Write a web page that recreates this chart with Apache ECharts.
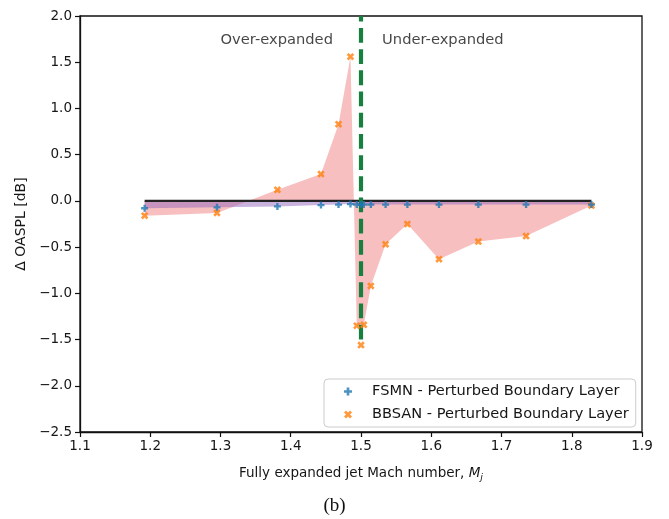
<!DOCTYPE html>
<html>
<head>
<meta charset="utf-8">
<title>ΔOASPL vs fully expanded jet Mach number</title>
<script src="https://cdn.jsdelivr.net/npm/echarts@6/dist/echarts.min.js"></script>
<style>
  html, body { margin: 0; padding: 0; background: #fff; }
  #chart { width: 669px; height: 519px; }
</style>
</head>
<body>
<div id="chart"></div>
<script>
// Fully expanded jet Mach number of each case
const mach = [1.192, 1.295, 1.381, 1.443, 1.468, 1.485, 1.494, 1.504,
              1.514, 1.535, 1.566, 1.611, 1.667, 1.735, 1.828];
// ΔOASPL [dB] of each model for a perturbed boundary layer
const fsmn  = [-0.08, -0.07, -0.06, -0.045, -0.04, -0.035, -0.04, -0.04,
               -0.04, -0.04, -0.04, -0.04, -0.04, -0.04, -0.04];
const bbsan = [-0.16, -0.13, 0.12, 0.29, 0.83, 1.56, -1.35, -1.34,
               -0.92, -0.47, -0.25, -0.63, -0.44, -0.38, -0.05];
// Design (perfectly expanded) case, plotted as markers only
const designMach = 1.5;
const designFsmn = -0.04;
const designBbsan = -1.56;
// Regime labels
const regimes = [[1.30, 1.74, 'Over-expanded'], [1.53, 1.74, 'Under-expanded']];
// Axis ticks
const xTicks = { min: 1.1, max: 1.9, step: 0.1 };
const yTicks = { min: -2.5, max: 2.0, step: 0.5 };

const FONT = '"DejaVu Sans", Verdana, sans-serif';
const INK = '#111';
const TEXT = '#161616';
const fmt = v => v.toFixed(1).replace('-', '\u2212');
const pairs = (xs, ys) => xs.map((x, i) => [x, ys[i]]);
const withDesign = (xs, ys, dy) => {
  const pts = pairs(xs, ys);
  pts.push([designMach, dy]);
  return pts.sort((a, b) => a[0] - b[0]);
};

// Filled plus and filled cross markers
const PLUS = 'path://M-1,-3L1,-3L1,-1L3,-1L3,1L1,1L1,3L-1,3L-1,1L-3,1L-3,-1L-1,-1Z';
const CROSS = 'path://M2,-4L4,-2L2,0L4,2L2,4L0,2L-2,4L-4,2L-2,0L-4,-2L-2,-4L0,-2Z';
const FSMN_NAME = 'FSMN - Perturbed Boundary Layer';
const BBSAN_NAME = 'BBSAN - Perturbed Boundary Layer';

const chart = echarts.init(document.getElementById('chart'), null, { renderer: 'canvas' });

chart.setOption({
  animation: false,
  backgroundColor: '#fff',
  grid: {
    left: 80, right: 27, top: 16, bottom: 87,
    show: true, borderColor: INK, borderWidth: 1.3, backgroundColor: 'transparent'
  },
  xAxis: {
    type: 'value',
    min: xTicks.min, max: xTicks.max, interval: xTicks.step,
    axisLine: { show: true, onZero: false, lineStyle: { color: INK, width: 1.3 } },
    axisTick: { show: true, length: 5, lineStyle: { color: INK, width: 1.2 } },
    axisLabel: { formatter: fmt, fontSize: 13.5, fontFamily: FONT, color: TEXT, margin: 7 },
    splitLine: { show: false },
    name: 'Fully expanded jet Mach number, {i|M}{s|j}',
    nameLocation: 'middle',
    nameGap: 32,
    nameTextStyle: {
      fontSize: 13.5, fontFamily: FONT, color: TEXT,
      rich: {
        i: { fontSize: 13.5, fontFamily: FONT, fontStyle: 'italic', color: TEXT },
        s: { fontSize: 9.5, fontFamily: FONT, fontStyle: 'italic', color: TEXT, padding: [9, 0, 0, 0] }
      }
    }
  },
  yAxis: {
    type: 'value',
    min: yTicks.min, max: yTicks.max, interval: yTicks.step,
    axisLine: { show: true, onZero: false, lineStyle: { color: INK, width: 1.3 } },
    axisTick: { show: true, length: 5, lineStyle: { color: INK, width: 1.2 } },
    axisLabel: { formatter: fmt, fontSize: 13.5, fontFamily: FONT, color: TEXT, margin: 8 },
    splitLine: { show: false },
    name: '\u0394 OASPL [dB]',
    nameLocation: 'middle',
    nameGap: 51,
    nameTextStyle: { fontSize: 14, fontFamily: FONT, color: TEXT }
  },
  legend: {
    data: [
      { name: FSMN_NAME, icon: PLUS },
      { name: BBSAN_NAME, icon: CROSS }
    ],
    orient: 'vertical',
    left: 324, top: 379,
    itemWidth: 8, itemHeight: 8, itemGap: 8,
    padding: [5, 7, 5, 20],
    backgroundColor: '#fff',
    borderColor: '#cccccc', borderWidth: 1, borderRadius: 4,
    textStyle: { fontSize: 14.6, fontFamily: FONT, color: TEXT, padding: [0, 0, 0, 15] }
  },
  series: [
    {
      // BBSAN deviation band
      type: 'line', data: pairs(mach, bbsan), showSymbol: false, silent: true,
      lineStyle: { width: 0 }, areaStyle: { color: 'rgba(240,128,128,0.5)', opacity: 1 }, z: 1
    },
    {
      // FSMN deviation band
      type: 'line', data: pairs(mach, fsmn), showSymbol: false, silent: true,
      lineStyle: { width: 0 }, areaStyle: { color: 'rgba(148,103,189,0.5)', opacity: 1 }, z: 2
    },
    {
      // Reference (zero change) line
      type: 'line', data: [[mach[0], 0], [mach[mach.length - 1], 0]], showSymbol: false, silent: true,
      lineStyle: { color: '#222', width: 2.2 }, z: 3
    },
    {
      // Design Mach number
      type: 'line', data: [[designMach, -1.5], [designMach, yTicks.max]], showSymbol: false, silent: true,
      lineStyle: { color: '#17803f', width: 4.2, type: [14.8, 6.4] }, z: 4
    },
    {
      name: FSMN_NAME, type: 'scatter', data: withDesign(mach, fsmn, designFsmn),
      symbol: PLUS, symbolSize: 7, itemStyle: { color: '#1f77b4' }, z: 6
    },
    {
      name: BBSAN_NAME, type: 'scatter', data: withDesign(mach, bbsan, designBbsan),
      symbol: CROSS, symbolSize: 7.5, itemStyle: { color: '#ff7f0e' }, z: 5
    },
    {
      type: 'scatter', data: regimes, symbolSize: 0, silent: true,
      label: {
        show: true, position: 'right', distance: 0, formatter: p => p.value[2],
        fontSize: 14.7, fontFamily: FONT, color: TEXT
      }, z: 7
    }
  ],
  graphic: [
    {
      type: 'text', left: 'center', top: 497,
      style: { text: '(b)', font: '19px "Liberation Serif", "Times New Roman", serif', fill: '#111' }
    }
  ]
});
</script>
</body>
</html>
